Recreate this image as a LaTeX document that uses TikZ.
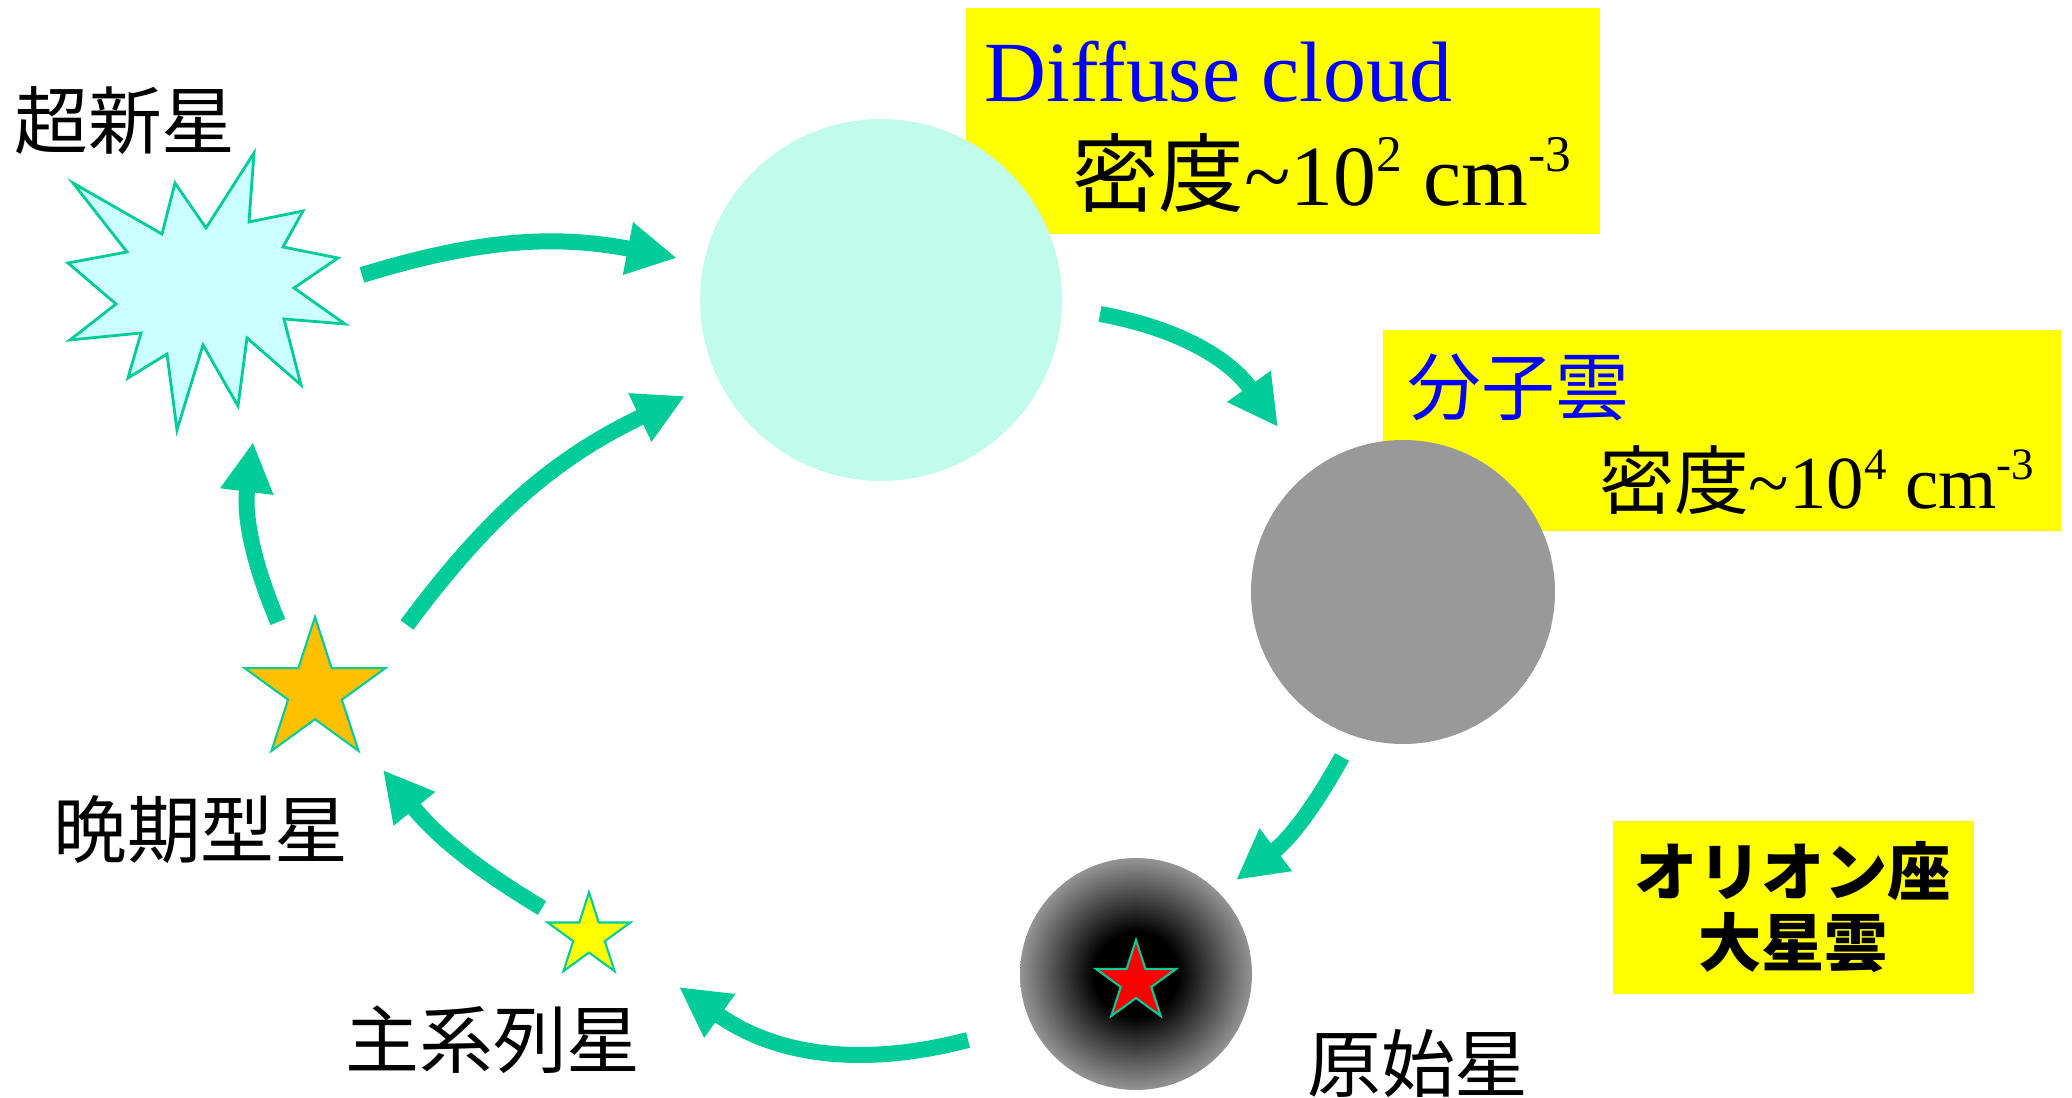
\documentclass[tikz,border=0pt]{standalone}
\usepackage{fontspec}
\usepackage{tikz}
\usetikzlibrary{shapes.geometric, arrows.meta, positioning}
\newfontfamily\jp{Noto Sans CJK JP}
\newfontfamily\tms{Liberation Serif}
\definecolor{myteal}{RGB}{0,204,153}
\definecolor{mymint}{RGB}{193,251,236}
\definecolor{myice}{RGB}{204,255,255}
\definecolor{mygray}{RGB}{153,153,153}
\definecolor{myorange}{RGB}{255,192,0}
\definecolor{myyellow}{RGB}{255,255,0}
\definecolor{myblue}{RGB}{0,0,255}
% dark core fading out to grey at the rim (rim sits at 25bp)
\pgfdeclareradialshading{protoshade}{\pgfpoint{0bp}{0bp}}{color(0bp)=(black); color(9bp)=(black); color(25bp)=(black!42); color(50bp)=(black!42)}
\newcommand{\sups}[1]{\raisebox{0.4em}{\scalebox{0.6}{#1}}}
\tikzset{
  cyc/.style={-{Triangle[length=0.5cm, width=0.5cm]}, line width=0.16cm, color=myteal},
  starnode/.style={star, star points=5, star point ratio=2.618, inner sep=0pt,
    draw=myteal, line width=0.6pt},
  cloudnode/.style={circle, inner sep=0pt},
  lbl/.style={inner sep=0pt, font=\jp\fontsize{21}{24}\selectfont},
  ybox/.style={fill=myyellow}
}

\begin{document}
\begin{tikzpicture}
  \useasboundingbox (0,0) rectangle (20.72,-10.98);

  % Yellow label boxes
  \fill[ybox] (9.66,-0.08) rectangle (16.00,-2.34);
  \fill[ybox] (13.83,-3.30) rectangle (20.61,-5.31);
  \fill[ybox] (16.13,-8.21) rectangle (19.74,-9.94);

  % Supernova burst
  \draw[fill=myice, draw=myteal, line width=0.8pt, line join=miter]
    (0.73,-1.83) -- (1.62,-2.34) -- (1.75,-1.83) -- (2.06,-2.28) --
    (2.54,-1.53) -- (2.49,-2.22) -- (3.03,-2.11) -- (2.83,-2.47) --
    (3.38,-2.58) -- (2.94,-2.88) -- (3.45,-3.24) -- (2.84,-3.19) --
    (3.01,-3.85) -- (2.47,-3.38) -- (2.38,-4.06) -- (2.03,-3.45) --
    (1.77,-4.30) -- (1.67,-3.54) -- (1.28,-3.78) -- (1.41,-3.33) --
    (0.70,-3.40) -- (1.16,-3.04) -- (0.68,-2.63) -- (1.27,-2.52) -- cycle;
  \coordinate (sn) at (2.06,-2.91);

  % Clouds
  \node[cloudnode, fill=mymint, minimum size=3.62cm] (diffuse) at (8.81,-3.00) {};
  \node[cloudnode, fill=mygray, minimum size=3.04cm] (molecular) at (14.03,-5.92) {};
  \node[cloudnode, shading=protoshade, minimum size=2.32cm] (proto) at (11.36,-9.74) {};

  % Stars
  \node[starnode, fill=red, minimum size=0.84cm] (protostar) at (11.36,-9.82) {};
  \node[starnode, fill=myyellow, minimum size=0.87cm] (mainseq) at (5.89,-9.36) {};
  \node[starnode, fill=myorange, minimum size=1.48cm] (late) at (3.15,-6.91) {};

  % Labels
  \node[lbl] (snlabel) at (1.25,-1.21) {超新星};
  \node[lbl] (latelabel) at (2.01,-8.30) {晩期型星};
  \node[lbl] (mslabel) at (4.93,-10.40) {主系列星};
  \node[lbl] (protolabel) at (14.18,-10.64) {原始星};

  \node[inner sep=0pt, anchor=base west, text=myblue,
    font=\tms\fontsize{24.4}{28}\selectfont] (difftitle) at (9.84,-1.02) {Diffuse cloud};
  \node[inner sep=0pt, anchor=base east, font=\fontsize{24.4}{28}\selectfont]
    (diffdens) at (15.72,-2.06) {{\jp 密度}{\tms \textasciitilde 10\sups{2} cm\sups{-3}}};
  \node[lbl, anchor=west, text=myblue] (moltitle) at (14.07,-3.87) {分子雲};
  \node[inner sep=0pt, anchor=base east, font=\fontsize{21.3}{24}\selectfont]
    (moldens) at (20.35,-5.09) {{\jp 密度}{\tms \textasciitilde 10\sups{4} cm\sups{-3}}};
  \node[inner sep=0pt, align=center, font=\jp\bfseries\fontsize{18}{20.2}\selectfont]
    (orion) at (17.93,-9.07) {オリオン座\\大星雲};

  % Cycle arrows
  \coordinate (a1s) at (3.62,-2.75);  \coordinate (a1e) at (6.77,-2.58);
  \coordinate (a2s) at (11.00,-3.14); \coordinate (a2e) at (12.78,-4.27);
  \coordinate (a3s) at (13.42,-7.57); \coordinate (a3e) at (12.36,-8.80);
  \coordinate (a4s) at (9.68,-10.40); \coordinate (a4e) at (6.79,-9.87);
  \coordinate (a5s) at (5.42,-9.08);  \coordinate (a5e) at (3.83,-7.70);
  \coordinate (a6s) at (2.78,-6.22);  \coordinate (a6e) at (2.53,-4.42);
  \coordinate (a7s) at (4.07,-6.25);  \coordinate (a7e) at (6.85,-3.96);

  \draw[cyc] (a1s) to[bend left=14] (a1e);
  \draw[cyc] (a2s) to[bend left=22] (a2e);
  \draw[cyc] (a3s) to[bend left=12] (a3e);
  \draw[cyc] (a4s) to[bend left=25] (a4e);
  \draw[cyc] (a5s) to[bend left=10] (a5e);
  \draw[cyc] (a6s) to[bend left=15] (a6e);
  \draw[cyc] (a7s) to[bend left=14] (a7e);
\end{tikzpicture}
\end{document}
